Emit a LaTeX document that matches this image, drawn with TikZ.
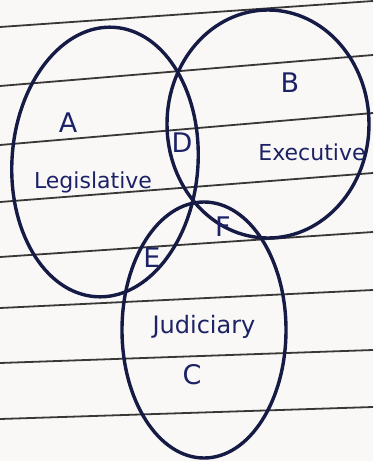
\documentclass[tikz,border=0pt]{standalone}
\usepackage{fontspec}
\setmainfont{DejaVu Sans}
\usetikzlibrary{positioning}

\definecolor{ink}{HTML}{161B45}
\definecolor{textink}{HTML}{1C2266}
\definecolor{rule}{HTML}{3A3836}
\definecolor{paper}{HTML}{FAF8F6}

\begin{document}
\begin{tikzpicture}[
  x=1pt, y=-1pt,
  set/.style={draw=ink, line width=3.4pt},
  ruling/.style={draw=rule, line width=1.8pt},
  region/.style={text=textink, font=\fontsize{27}{29}\selectfont},
  setname/.style={text=textink, font=\fontsize{22}{24}\selectfont}
]
  % paper
  \fill[paper] (0,0) rectangle (373,461);
  \useasboundingbox (0,0) rectangle (373,461);

  % ruled lines
  \foreach \yl/\yr in {27/1, 86/55, 145/113, 202/173, 257/232, 308/290, 363/350, 419/407}
    \draw[ruling] (0,\yl) -- (373,\yr);

  % the three sets
  \draw[set, rotate around={-4:(105,162)}] (105,162) ellipse (93 and 135);
  \draw[set] (268,124) ellipse (101 and 114);
  \draw[set] (204,330) ellipse (82 and 128);

  % region letters
  \node[region] (a) at (68,123) {A};
  \node[region] (b) at (290,83) {B};
  \node[region] (c) at (192,375) {C};
  \node[region] (d) at (182,143) {D};
  \node[region] (e) at (152,258) {E};
  \node[region] (f) at (223,227) {F};

  % set names
  \node[setname] (leg) at (93,182) {Legislative};
  \node[setname] (exe) at (312,152) {Executive};
  \node[setname, font=\fontsize{24}{26}\selectfont] (jud) at (204,327) {Judiciary};
\end{tikzpicture}
\end{document}
